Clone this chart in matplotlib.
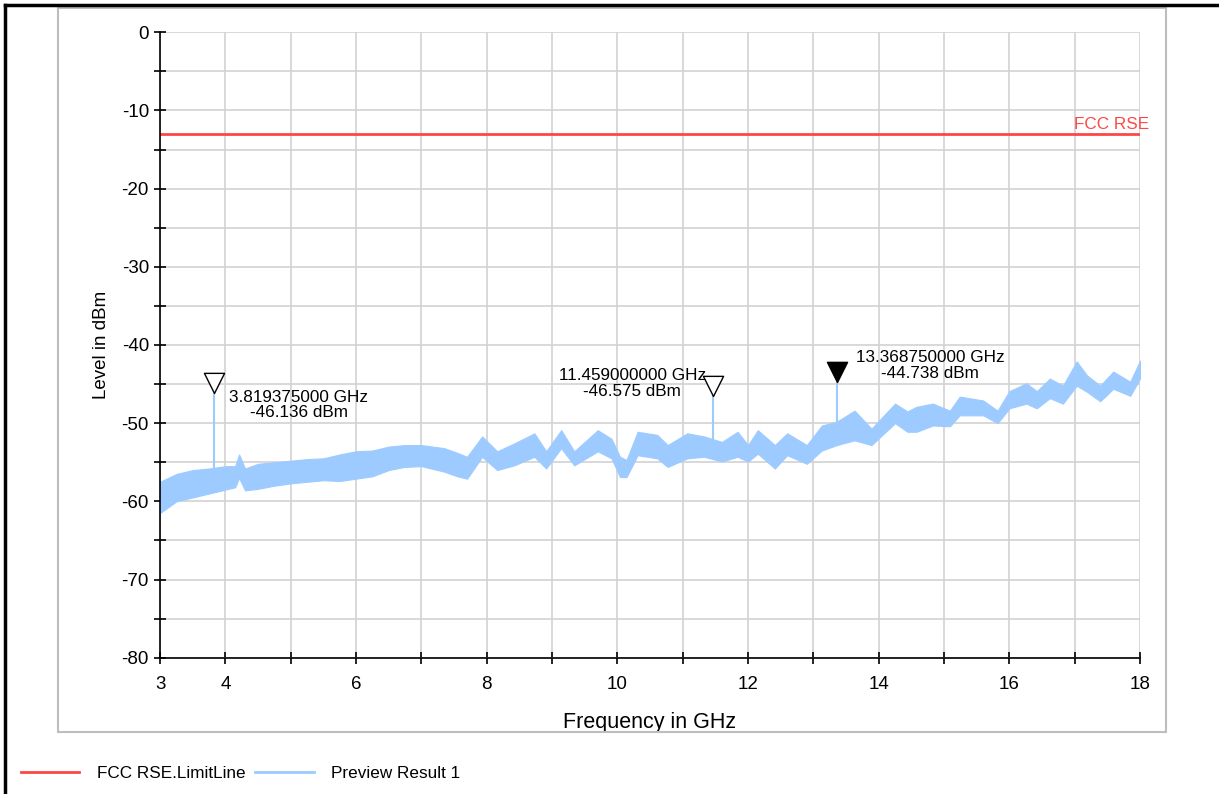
import numpy as np
import matplotlib.pyplot as plt
from matplotlib.path import Path
from matplotlib.lines import Line2D
from matplotlib.patches import Rectangle

plt.rcParams['font.family'] = ['Liberation Sans', 'DejaVu Sans']

freq = [3.00, 3.25, 3.50, 3.75, 4.00, 4.15, 4.21, 4.30, 4.50, 4.75, 5.00, 5.25,
        5.50, 5.75, 6.00, 6.25, 6.50, 6.74, 7.00, 7.35, 7.55, 7.70, 7.93, 8.16,
        8.42, 8.73, 8.91, 9.14, 9.34, 9.70, 9.91, 10.04, 10.14, 10.31, 10.61,
        10.77, 11.07, 11.33, 11.60, 11.84, 12.00, 12.15, 12.41, 12.60, 12.90,
        13.13, 13.36, 13.63, 13.89, 14.25, 14.44, 14.58, 14.83, 15.09, 15.24,
        15.60, 15.82, 16.00, 16.26, 16.42, 16.62, 16.82, 17.03, 17.19, 17.39,
        17.59, 17.85, 18.00]
level_lo = [-61.5, -60.0, -59.5, -59.0, -58.5, -58.2, -57.0, -58.6, -58.4, -58.0,
            -57.7, -57.5, -57.3, -57.4, -57.1, -56.8, -56.0, -55.6, -55.5, -56.2,
            -56.8, -57.1, -54.3, -56.0, -55.4, -54.3, -55.8, -53.2, -55.4, -53.6,
            -54.5, -56.9, -56.9, -54.1, -54.5, -55.6, -54.5, -54.3, -54.9, -54.3,
            -54.9, -53.9, -55.8, -54.1, -55.2, -53.5, -52.8, -52.2, -52.8, -50.0,
            -51.1, -51.1, -50.3, -50.4, -49.0, -49.0, -50.0, -48.1, -47.5, -48.1,
            -46.8, -47.5, -45.2, -46.0, -47.2, -45.6, -46.5, -44.3]
level_hi = [-57.5, -56.5, -56.0, -55.8, -55.5, -55.5, -54.0, -55.8, -55.2, -55.0,
            -54.8, -54.6, -54.5, -54.0, -53.6, -53.5, -53.0, -52.8, -52.8, -53.2,
            -53.8, -54.3, -51.7, -53.6, -52.6, -51.3, -53.6, -50.9, -53.6, -50.9,
            -52.0, -54.3, -54.7, -51.1, -51.5, -52.8, -51.3, -51.7, -52.4, -51.1,
            -52.8, -50.9, -52.8, -51.3, -52.8, -50.3, -49.8, -48.4, -50.7, -47.5,
            -48.5, -47.9, -47.5, -48.4, -46.6, -47.1, -48.4, -45.9, -44.9, -45.9,
            -44.3, -45.2, -42.1, -43.9, -45.2, -43.4, -44.7, -42.0]

limit_level = -13

# Markers
marker_freq = [3.819375, 11.459, 13.36875]
marker_level = [-46.136, -46.575, -44.738]
marker_base = [-56.5, -53.5, -51.5]
marker_text = ['3.819375000 GHz\n-46.136 dBm',
               '11.459000000 GHz\n-46.575 dBm',
               '13.368750000 GHz\n-44.738 dBm']
text_pos = [(5.12, -47.7), (10.23, -44.9), (14.79, -42.6)]

trace_color = '#9ecbff'
limit_color = '#ff4646'

fig = plt.figure(figsize=(12.19, 7.94), dpi=100)
ax = fig.add_axes([0.1313, 0.1717, 0.8039, 0.7876])

ax.fill_between(freq, level_lo, level_hi, color=trace_color, linewidth=0.8,
                edgecolor=trace_color, zorder=3)
ax.vlines(marker_freq, marker_base, marker_level, color=trace_color, lw=1.5, zorder=3)
lim_line, = ax.plot([3, 18], [limit_level, limit_level], color=limit_color, lw=2, zorder=4)
ax.text(18.14, limit_level + 0.2, 'FCC RSE', color=limit_color, fontsize=12.3,
        ha='right', va='bottom', zorder=5)

# triangle with its apex at the data point
tri = Path([(-0.5, 1.0), (0.5, 1.0), (0.0, 0.0), (-0.5, 1.0)],
           [Path.MOVETO, Path.LINETO, Path.LINETO, Path.CLOSEPOLY])
faces = ['white', 'white', 'black']
for f, lv, fc in zip(marker_freq, marker_level, faces):
    ax.plot([f], [lv], marker=tri, markersize=29, markerfacecolor=fc,
            markeredgecolor='black', markeredgewidth=1.0, linestyle='none', zorder=6)
for (tx, ty), s in zip(text_pos, marker_text):
    ax.text(tx, ty, s, fontsize=12.3, ha='center', va='center',
            multialignment='center', linespacing=1.05, zorder=6)

ax.set_xlim(3, 18)
ax.set_ylim(-80, 0)
ax.set_xticks(np.arange(3, 19, 1))
ax.set_xticklabels(['3', '4', '', '6', '', '8', '', '10', '', '12', '', '14', '',
                    '16', '', '18'])
ax.set_yticks(np.arange(-80, 1, 5))
ax.set_yticklabels([str(v) if v % 10 == 0 else '' for v in range(-80, 1, 5)])
ax.tick_params(direction='inout', length=8, width=1.2, labelsize=13.5, pad=4,
               colors='black')
ax.tick_params(axis='x', pad=9)
ax.grid(True, color='#d2d2d2', lw=1.2, zorder=0)
ax.set_axisbelow(True)
for s in ['top', 'right']:
    ax.spines[s].set_visible(False)
for s in ['left', 'bottom']:
    ax.spines[s].set_linewidth(1.2)
    ax.spines[s].set_zorder(5)

ax.set_xlabel('Frequency in GHz', fontsize=15.5, labelpad=14)
ax.set_ylabel('Level in dBm', fontsize=13.5, labelpad=8)

# outer frame around the plot
fig.patches.append(Rectangle((58 / 1219, 1 - 732 / 794), (1166 - 58) / 1219,
                             (732 - 8) / 794, transform=fig.transFigure,
                             fill=False, edgecolor='#bdbdbd', lw=1.5))
fig.add_artist(Line2D([5 / 1219, 5 / 1219], [0, 1 - 5 / 794], transform=fig.transFigure,
                      color='black', lw=2.5))
fig.add_artist(Line2D([5 / 1219, 1], [1 - 5 / 794, 1 - 5 / 794], transform=fig.transFigure,
                      color='black', lw=2.5))

trace_handle = Line2D([], [], color=trace_color, lw=2)
fig.legend([lim_line, trace_handle], ['FCC RSE.LimitLine', 'Preview Result 1'],
           loc='center left', bbox_to_anchor=(6 / 1219, 1 - 773 / 794), ncol=2,
           frameon=False, fontsize=12.3, handlelength=3.4, handletextpad=1.0,
           columnspacing=0.6)

fig.savefig('out.png', dpi=100)
